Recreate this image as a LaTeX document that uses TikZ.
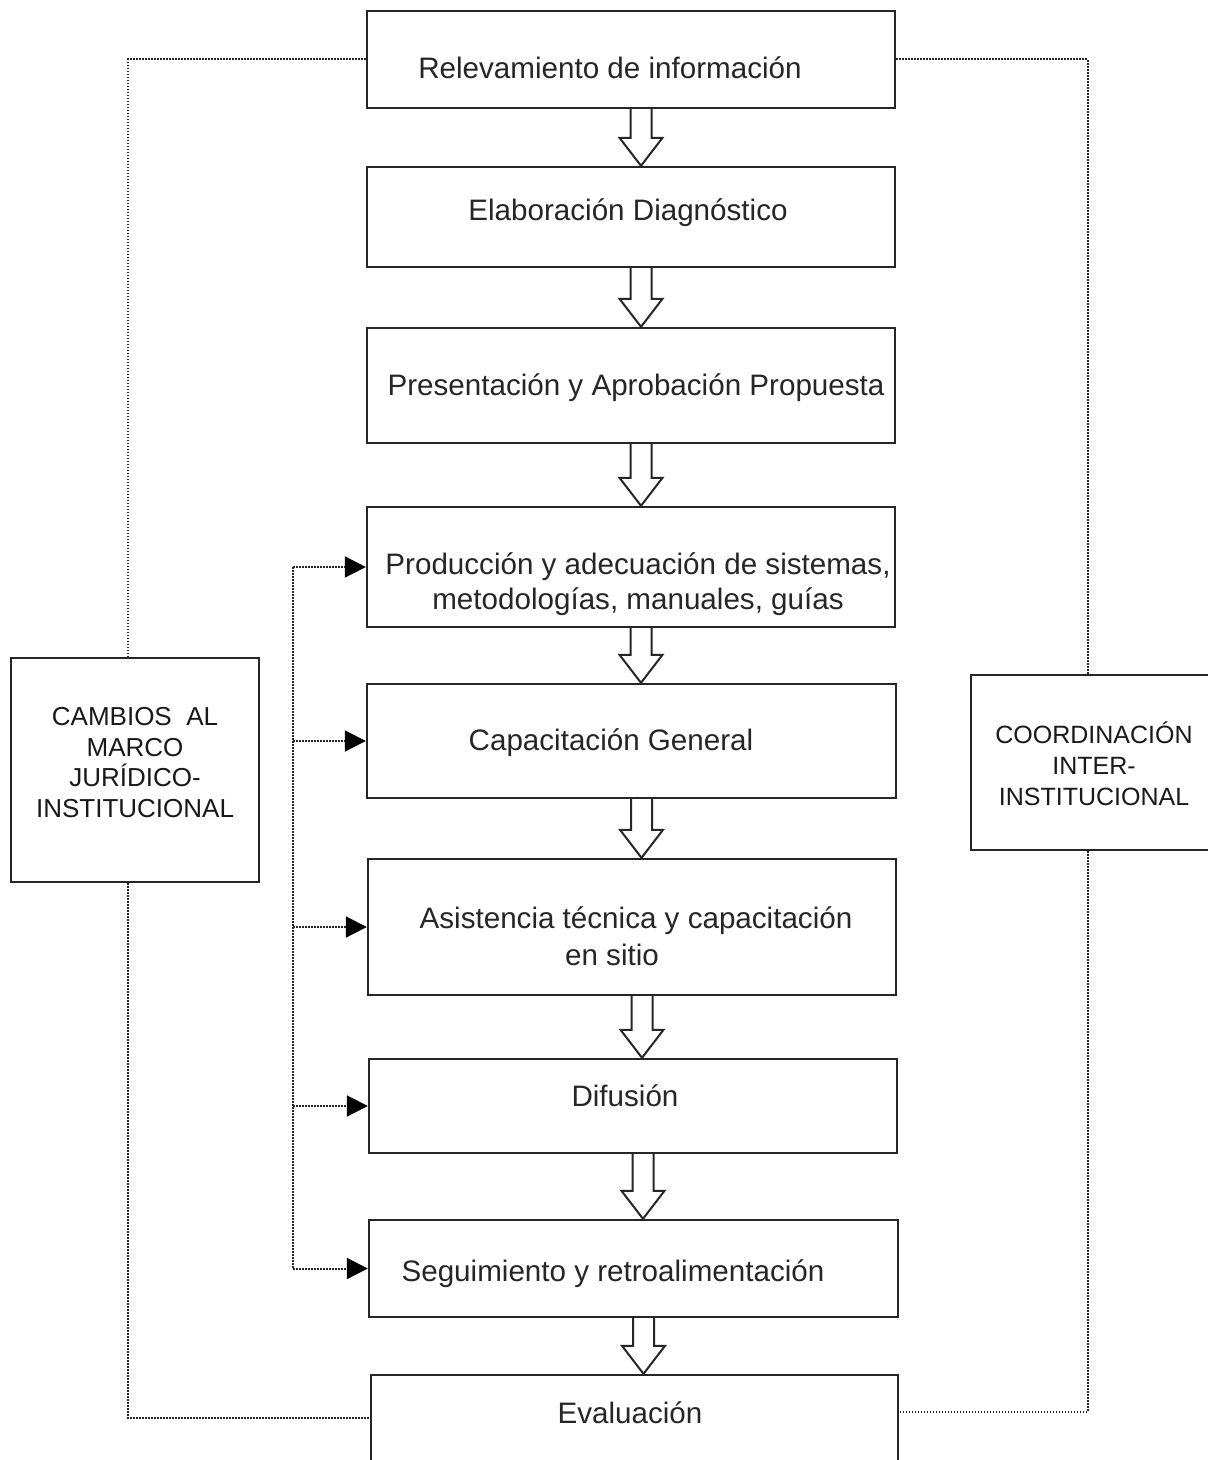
\documentclass[tikz,border=0pt]{standalone}
\usepackage{fontspec}
\setmainfont{Liberation Sans}
\usetikzlibrary{arrows.meta,calc}
\tikzset{
  box/.style={draw=black!85, line width=1.2pt, inner sep=0pt, fill=none},
  txt/.style={inner sep=0pt, align=center, text=black!85, font=\fontsize{14.8}{17.5}\selectfont},
  side/.style={inner sep=0pt, align=center, text=black!90, font=\fontsize{13}{15.2}\selectfont},
  dots/.style={draw=black!85, line width=1pt, dash pattern=on 0.8pt off 0.7pt},
  fb/.style={dots, -{Triangle[length=10.5pt,width=10.5pt,fill=black,color=black]}},
  harrow/.style={draw=black!85, line width=1pt, line join=miter}
}
\newcommand\hollowarrow[2]{%
  \draw[harrow] let \p1=(#1.south), \p2=(#2.north) in
    (\x1+5pt-5.25pt,\y1) -- (\x1+5pt-5.25pt,\y2+14pt) -- (\x1+5pt-10.75pt,\y2+14pt)
    -- (\x1+5pt,\y2) -- (\x1+5pt+10.75pt,\y2+14pt) -- (\x1+5pt+5.25pt,\y2+14pt)
    -- (\x1+5pt+5.25pt,\y1);}
\begin{document}
\begin{tikzpicture}[x=0.5pt,y=-0.5pt]
\useasboundingbox (0,0) rectangle (1208,1460);
\clip (0,0) rectangle (1208,1460);
\fill[white] (0,0) rectangle (1208,1460);
% main boxes
\node[box, minimum width=264pt, minimum height=48.5pt] (b1) at (631,59.5) {};
\node[box, minimum width=264pt, minimum height=50pt] (b2) at (631,217) {};
\node[box, minimum width=264pt, minimum height=57.5pt] (b3) at (631,385.5) {};
\node[box, minimum width=264pt, minimum height=60pt] (b4) at (631,567) {};
\node[box, minimum width=264.5pt, minimum height=57pt] (b5) at (631.5,741) {};
\node[box, minimum width=264pt, minimum height=68pt] (b6) at (632,927) {};
\node[box, minimum width=264pt, minimum height=47pt] (b7) at (633,1106) {};
\node[box, minimum width=264.5pt, minimum height=48.5pt] (b8) at (633.5,1268.5) {};
\node[box, minimum width=263.5pt, minimum height=46pt] (b9) at (634.5,1421) {};
% side boxes
\node[box, minimum width=124pt, minimum height=112pt] (L) at (135,770) {};
\node[box, minimum width=124.5pt, minimum height=87.5pt] (R) at (1095.5,762.5) {};
% texts
\node[txt] (t1) at (610,68) {Relevamiento de información};
\node[txt] (t2) at (628,213) {Elaboración Diagnóstico};
\node[txt] (t3) at (636,388) {Presentación y Aprobación Propuesta};
\node[txt] (t4) at (638,584) {Producción y adecuación de sistemas,\\metodologías, manuales, guías};
\node[txt] (t5) at (611,743) {Capacitación General};
\node[txt] (t6a) at (636,921) {Asistencia técnica y capacitación};
\node[txt] (t6b) at (612,955) {en sitio};
\node[txt] (t7) at (625,1096) {Difusión};
\node[txt] (t8) at (613,1274) {Seguimiento y retroalimentación};
\node[txt] (t9) at (630,1413) {Evaluación};
\node[side] (tL) at (135,762.5) {CAMBIOS\ \ AL\\MARCO\\JURÍDICO-\\INSTITUCIONAL};
\node[side, font=\fontsize{12.5}{15.4}\selectfont] (tR) at (1094,764) {COORDINACIÓN\\INTER-\\INSTITUCIONAL};
% hollow arrows
\hollowarrow{b1}{b2}
\hollowarrow{b2}{b3}
\hollowarrow{b3}{b4}
\hollowarrow{b4}{b5}
\hollowarrow{b5}{b6}
\hollowarrow{b6}{b7}
\hollowarrow{b7}{b8}
\hollowarrow{b8}{b9}
% outer dotted loops
\coordinate (yl) at (0,1418);
\coordinate (yr) at (0,1412);
\coordinate (Ltop) at ($(L.north)+(-7,0)$);
\coordinate (Lbot) at ($(L.south)+(-7,0)$);
\coordinate (Rtop) at ($(R.north)+(-8,0)$);
\coordinate (Rbot) at ($(R.south)+(-8,0)$);
\draw[dots] (b1.west) -| (Ltop);
\draw[dots] (Lbot) |- (b9.west |- yl);
\draw[dots] (b1.east) -| (Rtop);
\draw[dots] (Rbot) |- (b9.east |- yr);
% feedback trunk
\coordinate (trunk) at (293,0);
\draw[dots] (b4.west -| trunk) -- (b8.west -| trunk);
\draw[fb] (b4.west -| trunk) -- (b4.west);
\draw[fb] (b5.west -| trunk) -- (b5.west);
\draw[fb] (b6.west -| trunk) -- (b6.west);
\draw[fb] (b7.west -| trunk) -- (b7.west);
\draw[fb] (b8.west -| trunk) -- (b8.west);
\end{tikzpicture}
\end{document}
